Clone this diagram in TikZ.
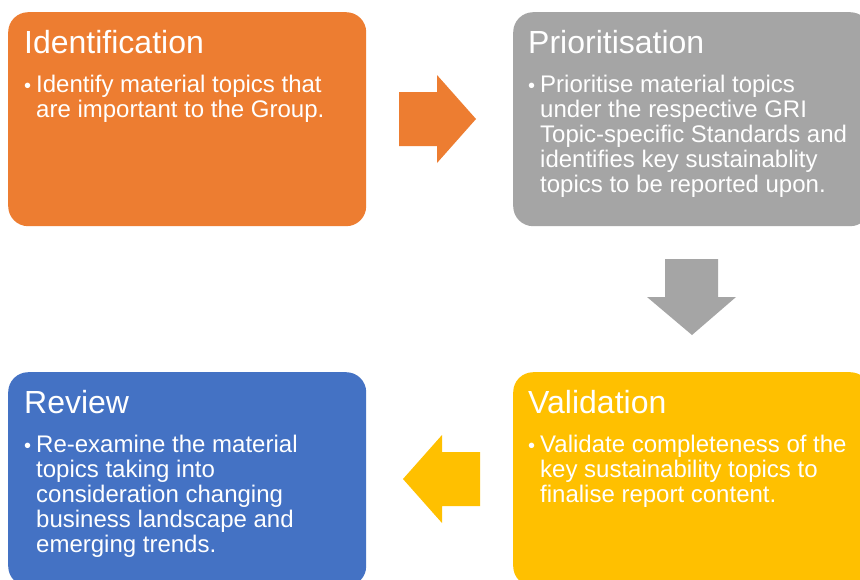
\documentclass[tikz,border=0pt]{standalone}
\usepackage{fontspec}
\setmainfont{Liberation Sans}
\definecolor{orng}{HTML}{ED7D31}
\definecolor{gry}{HTML}{A5A5A5}
\definecolor{blu}{HTML}{4472C4}
\definecolor{gld}{HTML}{FFC000}
\tikzset{
  stagebox/.style={rectangle, rounded corners=20pt, minimum width=358pt, minimum height=214pt, inner sep=0pt, anchor=north west, draw=none},
  stagetitle/.style={anchor=base west, inner sep=0pt, text=white, font=\fontsize{32}{38}\selectfont},
  stagebullet/.style={anchor=base west, inner sep=0pt, text=white, font=\fontsize{20}{25}\selectfont},
  stagebody/.style={anchor=base west, inner sep=0pt, text=white, align=left, font=\fontsize{24}{25}\selectfont},
}
\begin{document}
\begin{tikzpicture}[x=1pt, y=-1pt]
\useasboundingbox (0,0) rectangle (860,579);
\clip (0,0) rectangle (860,579);
\fill[white] (0,0) rectangle (860,579);
% boxes
\node[stagebox, fill=orng] (ident) at (8,12) {};
\node[stagebox, fill=gry, minimum width=357pt] (prio) at (513,12) {};
\node[stagebox, fill=blu] (review) at (8,372) {};
\node[stagebox, fill=gld, minimum width=357pt] (valid) at (513,372) {};
% titles
\node[stagetitle] (identT) at (24,53) {Identification};
\node[stagetitle] (prioT) at (528,53) {Prioritisation};
\node[stagetitle] (reviewT) at (24,413) {Review};
\node[stagetitle] (validT) at (528,413) {Validation};
% bullets
\node[stagebullet] (identB) at (24,92) {•};
\node[stagebullet] (prioB) at (528,92) {•};
\node[stagebullet] (reviewB) at (24,452) {•};
\node[stagebullet] (validB) at (528,452) {•};
% body texts (base anchor = baseline of last line)
\node[stagebody] (identX) at (36,117) {Identify material topics that\\are important to the Group.};
\node[stagebody] (prioX) at (540,192) {Prioritise material topics\\under the respective GRI\\Topic-specific Standards and\\identifies key sustainablity\\topics to be reported upon.};
\node[stagebody] (reviewX) at (36,552) {Re-examine the material\\topics taking into\\consideration changing\\business landscape and\\emerging trends.};
\node[stagebody] (validX) at (540,502) {Validate completeness of the\\key sustainability topics to\\finalise report content.};
% block arrows
\fill[orng] (399,92) -- (437,92) -- (437,75) -- (476,119) -- (437,163) -- (437,146) -- (399,146) -- cycle;
\fill[gry] (665,259) -- (718,259) -- (718,297) -- (736,297) -- (692,335) -- (647,297) -- (665,297) -- cycle;
\fill[gld] (480,452) -- (442,452) -- (442,435) -- (403,479) -- (442,523) -- (442,506) -- (480,506) -- cycle;
\end{tikzpicture}
\end{document}
